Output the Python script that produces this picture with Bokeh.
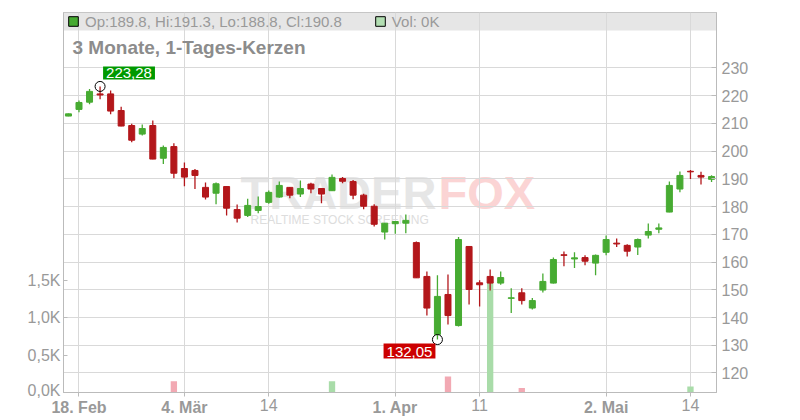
from bokeh.plotting import figure
from bokeh.layouts import column
from bokeh.models import (Range1d, LinearAxis, FixedTicker, Label, BoxAnnotation,
                          Legend, LegendItem, ColumnDataSource)
from bokeh.core.properties import value
from bokeh.embed import file_html
from bokeh.resources import INLINE

# ---------------- data ----------------
opens = [212.6, 215.0, 217.6, 220.6, 220.6, 214.6, 209.2, 206.1, 209.2, 197.4,
         201.6, 193.7, 193.0, 186.9, 184.8, 187.2, 178.9, 176.8, 178.6, 181.5,
         183.4, 186.9, 184.5, 188.1, 186.5, 185.7, 190.1, 189.0, 184.1, 180.1,
         170.8, 173.8, 174.0, 167.0, 154.8, 133.9, 148.3, 137.1, 165.6, 152.5,
         154.8, 152.4, 146.9, 148.9, 143.4, 149.9, 152.4, 162.6, 161.1, 161.6,
         159.6, 163.5, 166.8, 166.0, 165.4, 169.7, 171.8, 178.0, 186.3, 192.7,
         191.2, 189.8]
highs = [213.5, 218.2, 222.4, 223.28, 221.8, 216.0, 209.8, 209.6, 211.0, 202.0,
         202.8, 195.9, 193.5, 188.7, 188.7, 187.3, 180.7, 182.8, 183.6, 185.8,
         189.0, 187.0, 189.4, 188.6, 186.6, 191.5, 190.6, 189.6, 184.6, 180.8,
         174.1, 174.7, 177.1, 167.4, 156.6, 155.2, 155.5, 169.0, 165.7, 153.4,
         157.3, 156.6, 150.5, 150.5, 147.0, 155.9, 161.6, 163.8, 163.5, 162.4,
         162.7, 169.6, 168.5, 166.4, 168.5, 173.9, 173.9, 189.0, 192.6, 193.2,
         192.5, 191.3]
lows = [212.5, 214.0, 216.9, 218.7, 213.3, 208.9, 203.2, 205.6, 197.0, 195.3,
        190.2, 187.3, 186.3, 182.5, 180.8, 176.8, 174.2, 176.2, 177.6, 181.0,
        183.2, 183.0, 183.4, 184.8, 181.2, 185.6, 188.4, 182.6, 179.0, 172.8,
        168.1, 170.2, 170.4, 154.2, 140.7, 132.05, 137.5, 136.8, 144.7, 144.0,
        149.7, 151.8, 141.6, 144.7, 142.9, 149.0, 152.3, 158.5, 157.8, 158.8,
        155.2, 162.4, 165.4, 162.0, 162.5, 168.5, 170.4, 177.9, 185.1, 189.9,
        187.9, 188.8]
closes = [213.4, 217.5, 221.5, 220.2, 214.4, 209.0, 203.9, 208.1, 197.1, 201.3,
          192.0, 190.6, 191.2, 183.4, 188.2, 179.4, 175.8, 180.4, 180.0, 185.1,
          187.6, 184.1, 186.5, 186.3, 184.5, 190.5, 189.1, 184.1, 180.1, 173.6,
          174.0, 174.6, 175.0, 154.3, 143.4, 147.6, 140.7, 168.1, 150.1, 151.8,
          152.4, 154.4, 147.1, 146.1, 146.1, 153.0, 160.9, 162.4, 161.5, 160.3,
          162.4, 168.1, 166.5, 163.9, 168.1, 171.0, 172.3, 187.6, 191.2, 192.5,
          190.6, 190.8]
volumes = [0, 0, 0, 0, 0, 0, 0, 0, 0, 0,
           150, 0, 0, 0, 0, 0, 0, 0, 0, 0,
           0, 0, 0, 0, 0, 150, 0, 0, 0, 0,
           0, 0, 0, 0, 0, 0, 215, 0, 0, 0,
           1500, 0, 0, 60, 0, 0, 0, 0, 0, 0,
           0, 0, 0, 0, 0, 0, 0, 0, 0, 80,
           0, 0]

month_tick_pos = [1, 11, 31, 51]
month_tick_labels = ["18. Feb", "4. Mär", "1. Apr", "2. Mai"]
day_tick_pos = [19, 39, 59]
day_tick_labels = ["14", "11", "14"]
price_ticks = [120, 130, 140, 150, 160, 170, 180, 190, 200, 210, 220, 230]
vol_ticks = [0, 500, 1000, 1500]
vol_tick_labels = ["0,0K", "0,5K", "1,0K", "1,5K"]

title_text = "3 Monate, 1-Tages-Kerzen"

# ---------------- styles ----------------
GREEN = "#47ab32"
RED = "#b3171b"
VGREEN = "#a9dca9"
VRED = "#f2a9b3"
LEG_VOL = "#b2deb2"
GRID = "#d9d9d9"
AXIS = "#bbbbbb"
TXT = "#999999"
FONT = "Liberation Sans"
NAN = float("nan")
W = 780
BL, BR = 63, 64          # left / right borders of the plot frame

n = len(closes)
idx = list(range(n))
colors = [GREEN if c >= o else RED for o, c in zip(opens, closes)]
tops = [max(o, c) for o, c in zip(opens, closes)]
bottoms = [min(o, c) for o, c in zip(opens, closes)]
vol_colors = [VGREEN if (i > 0 and closes[i] >= closes[i - 1]) else VRED for i in idx]

src = ColumnDataSource(dict(x=idx, o=opens, h=highs, l=lows, c=closes,
                            top=tops, bottom=bottoms, color=colors,
                            vol=volumes, vcolor=vol_colors))

xr = Range1d(-0.47, n - 0.53)
p = figure(width=W, height=398, x_range=xr, y_range=Range1d(112.97, 249.93),
           output_backend="svg", toolbar_location=None, y_axis_location="right",
           min_border_left=BL, min_border_right=BR, min_border_top=12, min_border_bottom=6)
p.extra_y_ranges = {"vol": Range1d(0, 5090)}
p.background_fill_color = "white"
p.border_fill_color = "white"
p.outline_line_color = AXIS

# grey legend band at top of the frame
band = BoxAnnotation(bottom=362, bottom_units="screen", fill_color="#e6e6e6",
                     fill_alpha=1.0, line_alpha=0, level="image")
p.add_layout(band)

# watermark
for txt, xx, yy, size, col, style in [("TRADER", 177, 200, "47px", "#e6e6e6", "bold"),
                                      ("FOX", 375, 200, "47px", "#fbd4d4", "bold"),
                                      ("REALTIME STOCK SCREENING", 187, 173, "12px", "#dddddd", "normal")]:
    p.add_layout(Label(x=xx, y=yy, x_units="screen", y_units="screen", text=txt,
                       text_font=FONT, text_font_size=size, text_color=col,
                       text_font_style=style, text_baseline="middle", level="image"))

# volume bars
p.vbar(x="x", top="vol", bottom=0, width=0.6, fill_color="vcolor", line_alpha=0,
       source=src, y_range_name="vol")

# candles
p.segment(x0="x", y0="h", x1="x", y1="l", line_color="color", line_width=1.3, source=src)
p.vbar(x="x", top="top", bottom="bottom", width=0.57, fill_color="color",
       line_color="color", line_width=1, source=src)

# high / low markers
i_hi = max(idx, key=lambda i: highs[i])
i_lo = min(idx, key=lambda i: lows[i])
p.scatter(x=[i_hi, i_lo], y=[highs[i_hi], lows[i_lo]], marker="circle", size=10,
          fill_alpha=0, line_color="black", line_width=1)

def fmt(v):
    return f"{v:.2f}".replace(".", ",")

p.add_layout(Label(x=i_hi, y=highs[i_hi], x_offset=3, y_offset=7, text=fmt(highs[i_hi]),
                   text_align="left", text_baseline="bottom", text_color="white",
                   text_font=FONT, text_font_size="15px", background_fill_color="#009900",
                   padding=dict(left=3, right=3, top=2, bottom=1)))
p.add_layout(Label(x=i_lo, y=lows[i_lo], x_offset=-2, y_offset=-4, text=fmt(lows[i_lo]),
                   text_align="right", text_baseline="top", text_color="white",
                   text_font=FONT, text_font_size="15px", background_fill_color="#cc0000",
                   padding=dict(left=3, right=3, top=3, bottom=2)))

# title
p.add_layout(Label(x=9, y=345, x_units="screen", y_units="screen", text=title_text,
                   text_font=FONT, text_font_size="19px", text_font_style="bold",
                   text_color="#8c8c8c", text_baseline="middle"))

# legend
r1 = p.scatter(x=[NAN], y=[NAN], marker="square", size=10, fill_color=GREEN, line_color="black")
r2 = p.scatter(x=[NAN], y=[NAN], marker="square", size=10, fill_color=LEG_VOL, line_color="black")
lbl1 = f"Op:{opens[-1]}, Hi:{highs[-1]}, Lo:{lows[-1]}, Cl:{closes[-1]}"
lbl2 = f"Vol: {volumes[-1] / 1000:.0f}K"
legend = Legend(items=[LegendItem(label=lbl1, renderers=[r1]), LegendItem(label=lbl2, renderers=[r2])],
                orientation="horizontal", location=(-2, 359), glyph_width=24, glyph_height=24,
                label_height=24, label_standoff=0, spacing=26, padding=0, margin=0,
                border_line_alpha=0, background_fill_alpha=0, label_text_font=FONT,
                label_text_font_size="15px", label_text_color=TXT)
p.add_layout(legend)

# grids
all_ticks = sorted(month_tick_pos + day_tick_pos)
p.xgrid.ticker = FixedTicker(ticks=all_ticks)
p.ygrid.ticker = FixedTicker(ticks=price_ticks)
p.grid.grid_line_color = GRID
p.grid.grid_line_width = 1

# right price axis
ra = p.right[0]
ra.ticker = FixedTicker(ticks=price_ticks)
ra.axis_line_color = AXIS
ra.major_tick_line_color = AXIS
ra.major_tick_in = 5
ra.major_tick_out = 0
ra.minor_tick_line_color = None
ra.major_label_standoff = 5
ra.major_label_text_font = FONT
ra.major_label_text_font_size = "16px"
ra.major_label_text_color = TXT

# left volume axis
la = LinearAxis(y_range_name="vol", ticker=FixedTicker(ticks=vol_ticks),
                major_label_overrides=dict(zip(vol_ticks, vol_tick_labels)),
                axis_line_color=AXIS, major_tick_line_color=AXIS, major_tick_in=4,
                major_tick_out=0, minor_tick_line_color=None, major_label_standoff=3,
                major_label_text_font=FONT, major_label_text_font_size="16px",
                major_label_text_color=TXT)
p.add_layout(la, "left")

# bottom axis: tick marks only; its labels are drawn in the strip below
xa = p.below[0]
xa.ticker = FixedTicker(ticks=all_ticks)
xa.major_label_overrides = {t: "" for t in all_ticks}
xa.axis_line_color = AXIS
xa.major_tick_line_color = AXIS
xa.major_tick_in = 0
xa.major_tick_out = 4
xa.minor_tick_line_color = None
xa.major_label_standoff = 0
xa.major_label_text_font_size = "0px"

# label strip spanning the full width, with the same pixel scale as the plot frame
ppu = (W - BL - BR) / (xr.end - xr.start)
sr = Range1d(xr.start - BL / ppu, xr.end + BR / ppu)
s = figure(width=W, height=20, x_range=sr, y_range=Range1d(0, 1),
           output_backend="svg", toolbar_location=None,
           min_border_left=0, min_border_right=0, min_border_top=0, min_border_bottom=0,
           x_axis_location=None, y_axis_location=None)
s.outline_line_color = None
s.grid.visible = False
s.background_fill_color = "white"
s.border_fill_color = "white"
s.text(x=month_tick_pos, y=[1] * len(month_tick_pos), text=month_tick_labels,
       text_align="center", text_baseline="top", text_font=value(FONT),
       text_font_size=value("16px"), text_font_style=value("bold"), text_color=TXT)
s.text(x=day_tick_pos, y=[1] * len(day_tick_pos), text=day_tick_labels,
       text_align="center", text_baseline="top", text_font=value(FONT),
       text_font_size=value("16px"), text_font_style=value("normal"), text_color=TXT)

# keep each figure's own frame (no frame alignment between the two stacked figures)
for f in (p, s):
    if "frame_align" in f.properties():
        f.frame_align = False

layout = column(p, s, spacing=0)
open("out.html", "w").write(file_html(layout, INLINE))
